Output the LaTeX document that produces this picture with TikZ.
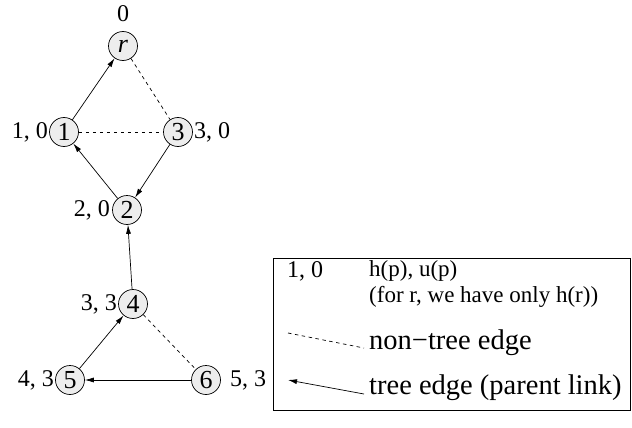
\documentclass[tikz,border=0pt]{standalone}
\usepackage{fontspec}
\setmainfont{Liberation Serif}
\usetikzlibrary{arrows.meta}
\begin{document}
\begin{tikzpicture}[x=1pt,y=-1pt,
  vtx/.style={circle,draw,fill=black!7,minimum size=29pt,inner sep=0pt,line width=0.7pt,font=\fontsize{26}{28}\selectfont},
  lbl/.style={inner sep=1pt,font=\fontsize{24}{26}\selectfont},
  small/.style={inner sep=0pt,font=\fontsize{23}{26}\selectfont,anchor=west},
  big/.style={inner sep=0pt,font=\fontsize{28.5}{30}\selectfont,anchor=west},
  tree/.style={line width=0.7pt,-{Latex[length=9pt,width=5pt]}},
  nontree/.style={line width=0.7pt,dash pattern=on 3.5pt off 3.5pt}]
\useasboundingbox (0,0) rectangle (632,428);
\node[vtx] (r) at (123,46) {\textit{r}};
\node[vtx] (n1) at (64,132) {1};
\node[vtx] (n3) at (178,132) {3};
\node[vtx] (n2) at (127,210) {2};
\node[vtx] (n4) at (133,304) {4};
\node[vtx] (n5) at (70,380) {5};
\node[vtx] (n6) at (206,380) {6};
\node[lbl] (lr) at (123,14) {0};
\node[lbl,anchor=east] (l1) at (n1.west) {1, 0};
\node[lbl,anchor=west] (l3) at (n3.east) {3, 0};
\node[lbl,anchor=east] (l2) at ([xshift=-1pt]n2.west) {2, 0};
\node[lbl,anchor=east] (l4) at (n4.west) {3, 3};
\node[lbl,anchor=east] (l5) at (n5.west) {4, 3};
\node[lbl,anchor=west] (l6) at ([xshift=8pt]n6.east) {5, 3};
\draw[tree] (n1) -- (r);
\draw[nontree] (r) -- (n3);
\draw[nontree] (n1) -- (n3);
\draw[tree] (n2) -- (n1);
\draw[tree] (n3) -- (n2);
\draw[tree] (n4) -- (n2);
\draw[tree] (n5) -- (n4);
\draw[nontree] (n4) -- (n6);
\draw[tree] (n6) -- (n5);
% legend
\node[draw,line width=0.7pt,minimum width=357pt,minimum height=152pt,anchor=north west,inner sep=0pt] (box) at (273,258) {};
\node[lbl,anchor=west] (k1) at (286,271) {1, 0};
\node[small] (t1) at (369,271) {h(p), u(p)};
\node[small] (t2) at (369,297) {(for r, we have only h(r))};
\node[big] (t3) at (369,343) {non−tree edge};
\node[big] (t4) at (369,388) {tree edge (parent link)};
\coordinate (d1) at (288,333);
\coordinate (d2) at (364,348);
\draw[nontree] (d1) -- (d2);
\coordinate (a1) at (364,394);
\coordinate (a2) at (288,380);
\draw[tree] (a1) -- (a2);
\end{tikzpicture}
\end{document}
